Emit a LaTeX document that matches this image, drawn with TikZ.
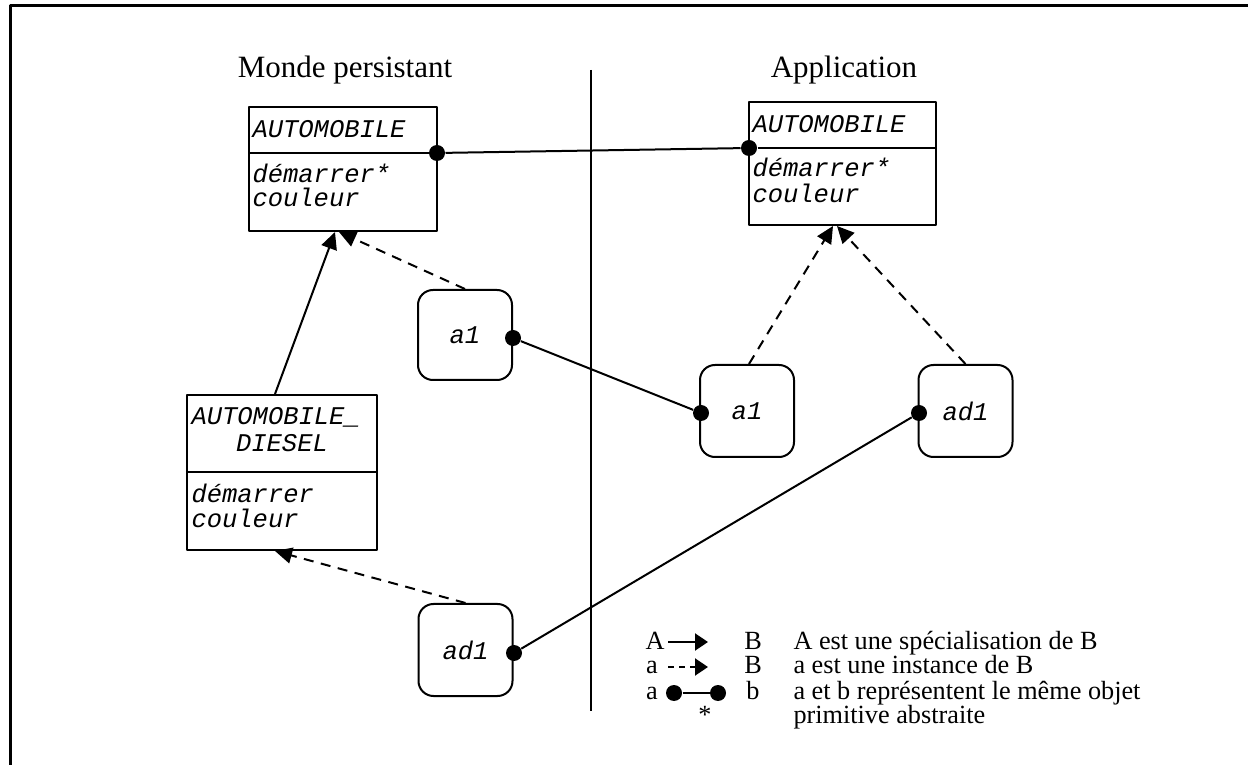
\documentclass[tikz,border=0pt]{standalone}
\usepackage{fontspec}
\setmainfont{Liberation Serif}
\newfontfamily\codefont{Liberation Mono}
\usetikzlibrary{arrows.meta}
\newcommand{\codetext}{\codefont\itshape\fontsize{10.2}{12}\selectfont}
\newcommand{\titletext}{\fontsize{12.4}{15}\selectfont}
\newcommand{\legtext}{\fontsize{10.5}{12}\selectfont}
\tikzset{
  clsbox/.style={draw, line width=0.8pt, inner sep=0pt},
  objbox/.style={draw, line width=0.8pt, rounded corners=6pt, minimum width=37.6pt, minimum height=36.8pt, inner sep=0pt, font=\codetext},
  codetxt/.style={anchor=base west, inner sep=0pt, font=\codetext},
  legtxt/.style={anchor=base, inner sep=0pt, font=\legtext},
  dot/.style={circle, fill, inner sep=0pt, minimum size=6.4pt},
  spec/.style={-{Triangle[length=6.8pt,width=6.4pt]}, line width=0.8pt},
  inst/.style={spec, dash pattern=on 4pt off 3pt},
  same/.style={line width=0.8pt},
  legspec/.style={-{Triangle[length=5.2pt,width=6.8pt]}, line width=0.8pt},
  leginst/.style={legspec, dash pattern=on 2.4pt off 2pt}
}
\begin{document}
\begin{tikzpicture}[x=0.4pt, y=-0.4pt, line join=round]
\useasboundingbox (0,0) rectangle (1248,765);
\clip (0,0) rectangle (1248,765);
\draw[line width=1.2pt] (10,780) -- (10,6) -- (1260,6);
\node[anchor=base, font=\titletext] (persTitle) at (345,78) {Monde persistant};
\node[anchor=base, font=\titletext] (appTitle) at (844,78) {Application};
\draw[line width=0.8pt] (591,70) -- (591,711);
\node[clsbox, minimum width=75.2pt, minimum height=49.6pt] (persAuto) at (343,169) {};
\node[clsbox, minimum width=74.8pt, minimum height=49.2pt] (appAuto) at (842.5,163.5) {};
\node[clsbox, minimum width=76pt, minimum height=62pt] (diesel) at (282,472.5) {};
\node[dot] (persDot) at (437,153) {};
\node[dot] (appDot) at (749,148) {};
\coordinate (dieselSplit) at (377,472);
\draw[line width=0.8pt] (persAuto.west |- persDot) -- (persDot);
\draw[line width=0.8pt] (appDot) -- (appAuto.east |- appDot);
\draw[line width=0.8pt] (diesel.west |- dieselSplit) -- (dieselSplit);
\node[codetxt] (persName) at (252,138) {AUTOMOBILE};
\node[codetxt] (persOp) at (252,183) {démarrer*};
\node[codetxt] (persAttr) at (252,207) {couleur};
\node[codetxt] (appName) at (752,133) {AUTOMOBILE};
\node[codetxt] (appOp) at (752,177) {démarrer*};
\node[codetxt] (appAttr) at (752,203) {couleur};
\node[codetxt] (dieselName) at (191,425) {AUTOMOBILE\_};
\node[codetxt, anchor=base] (dieselName2) at (282,452) {DIESEL};
\node[codetxt] (dieselOp) at (191,503) {démarrer};
\node[codetxt] (dieselAttr) at (191,528) {couleur};
\node[objbox, minimum height=36pt] (persA1) at (465,335) {a1};
\node[objbox] (appA1) at (747,411) {a1};
\node[objbox] (appAd1) at (965.5,411) {ad1};
\node[objbox] (persAd1) at (465.5,650) {ad1};
\node[dot] (persA1Dot) at (513,338) {};
\node[dot] (appA1Dot) at (701,413) {};
\node[dot] (appAd1Dot) at (919,413) {};
\node[dot] (persAd1Dot) at (514,653) {};
\draw[same] (persDot) -- (appDot);
\draw[same] (persA1Dot) -- (appA1Dot);
\draw[same] (persAd1Dot) -- (appAd1Dot);
\draw[spec] ([xshift=-2.8pt]diesel.north) -- ([xshift=-3.2pt]persAuto.south);
\draw[inst] (persA1.north) -- ([xshift=-1.6pt]persAuto.south);
\draw[inst] (persAd1.north) -- ([xshift=-2.8pt]diesel.south);
\draw[inst] ([xshift=0.8pt]appA1.north) -- ([xshift=-3.8pt]appAuto.south);
\draw[inst] (appAd1.north) -- ([xshift=-2.2pt]appAuto.south);
\node[legtxt] (legA) at (655,649) {A};
\node[legtxt] (legB) at (753,649) {B};
\node[legtxt, anchor=base west] (legSpec) at (793,649) {A est une spécialisation de B};
\coordinate (specFrom) at (668,642);
\coordinate (specTo) at (708,642);
\draw[legspec] (specFrom) -- (specTo);
\node[legtxt] (lega) at (652,674) {a};
\node[legtxt] (legB2) at (753,674) {B};
\node[legtxt, anchor=base west] (legInst) at (793,674) {a est une instance de B};
\coordinate (instFrom) at (668,667);
\coordinate (instTo) at (708,667);
\draw[leginst] (instFrom) -- (instTo);
\node[legtxt] (lega2) at (652,699) {a};
\node[legtxt] (legb) at (753,699) {b};
\node[legtxt, anchor=base west] (legSame) at (793,699) {a et b représentent le même objet};
\node[dot] (sameFrom) at (674,693) {};
\node[dot] (sameTo) at (718,693) {};
\draw[same] (sameFrom) -- (sameTo);
\node[legtxt] (legStar) at (705,724) {*};
\node[legtxt, anchor=base west] (legPrim) at (793,724) {primitive abstraite};
\end{tikzpicture}
\end{document}
